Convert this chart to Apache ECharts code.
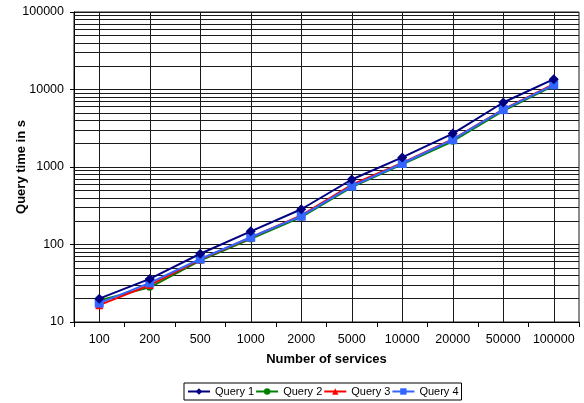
<!DOCTYPE html>
<html>
<head>
<meta charset="utf-8">
<script src="https://cdn.jsdelivr.net/npm/echarts@6/dist/echarts.min.js"></script>
<style>
  html, body { margin: 0; padding: 0; background: #ffffff; }
  #chart { width: 584px; height: 403px; }
</style>
</head>
<body>
<div id="chart"></div>
<script>
// Number of services on the x axis (categories)
const services = ['100', '200', '500', '1000', '2000', '5000', '10000', '20000', '50000', '100000'];

// Query times in seconds for each query
const query1 = [20, 36, 76, 148, 285, 690, 1330, 2700, 6800, 13600];
const query2 = [19, 28, 62, 118, 225, 550, 1080, 2150, 5300, 11200];
const query3 = [16.5, 30, 64, 123, 238, 590, 1130, 2280, 5550, 11700];
const query4 = [17.5, 32, 65, 124, 232, 565, 1110, 2250, 5500, 11500];

const seriesNames = ['Query 1', 'Query 2', 'Query 3', 'Query 4'];

// Log axis range and the decades that carry labels
const yMin = 10;
const yMax = 100000;
const decades = [10, 100, 1000, 10000];
const minorSteps = [2, 3, 4, 5, 6, 7, 8, 9];

// Horizontal minor grid lines at 2..9 of each decade
const minorGridValues = [];
decades.forEach(function (d) {
  minorSteps.forEach(function (m) { minorGridValues.push(d * m); });
});

const gridColor = '#1a1a1a';
const font = '"Liberation Sans", Arial, sans-serif';

const chart = echarts.init(document.getElementById('chart'), null, { renderer: 'canvas' });

function makeSeries(name, data, color, symbol, size, z) {
  return {
    name: name,
    type: 'line',
    data: data,
    z: z,
    symbol: symbol,
    symbolSize: size,
    showSymbol: true,
    lineStyle: { color: color, width: 2 },
    itemStyle: { color: color },
    emphasis: { disabled: true },
    animation: false
  };
}

const s1 = makeSeries(seriesNames[0], query1, '#000080', 'diamond', 10, 6);
const s2 = makeSeries(seriesNames[1], query2, '#008000', 'circle', 7, 3);
const s3 = makeSeries(seriesNames[2], query3, '#ff0000', 'triangle', 8, 4);
const s4 = makeSeries(seriesNames[3], query4, '#3366ff', 'rect', 9, 5);

// Grid underneath the data lines: minor horizontals and a vertical at each category
const gridLines = minorGridValues.map(function (v) { return { yAxis: v }; })
  .concat(services.map(function (c) { return { xAxis: c }; }));

s1.markLine = {
  silent: true,
  z: 1,
  symbol: ['none', 'none'],
  label: { show: false },
  emphasis: { disabled: true },
  animation: false,
  lineStyle: { color: gridColor, width: 1, type: 'solid' },
  data: gridLines
};

chart.setOption({
  backgroundColor: '#ffffff',
  animation: false,
  textStyle: { fontFamily: font },
  grid: {
    left: 74, right: 5, top: 12, bottom: 81,
    containLabel: false,
    outerBoundsMode: 'none',
    show: true,
    borderColor: gridColor,
    borderWidth: 1,
    backgroundColor: 'transparent'
  },
  legend: {
    data: seriesNames,
    bottom: 3,
    left: 184,
    itemWidth: 22,
    itemHeight: 8,
    itemGap: 1,
    padding: [3, 3, 3, 3],
    borderColor: '#000000',
    borderWidth: 1,
    borderRadius: 0,
    backgroundColor: '#ffffff',
    textStyle: { fontSize: 11, color: '#000000', fontFamily: font }
  },
  xAxis: {
    type: 'category',
    data: services,
    boundaryGap: true,
    name: 'Number of services',
    nameLocation: 'middle',
    nameGap: 31,
    nameMoveOverlap: false,
    nameTextStyle: { fontSize: 13, fontWeight: 'bold', color: '#000000', fontFamily: font },
    axisLine: { lineStyle: { color: '#000000', width: 1 } },
    axisTick: { show: true, length: 5, inside: false, lineStyle: { color: '#000000' } },
    axisLabel: { margin: 11, fontSize: 12.5, color: '#000000', fontFamily: font, interval: 0 },
    splitLine: { show: false }
  },
  yAxis: {
    type: 'log',
    logBase: 10,
    min: yMin,
    max: yMax,
    name: 'Query time in s',
    nameLocation: 'middle',
    nameGap: 46,
    nameRotate: 90,
    nameMoveOverlap: false,
    nameTextStyle: { fontSize: 13, fontWeight: 'bold', color: '#000000', fontFamily: font },
    axisLine: { show: true, lineStyle: { color: '#000000', width: 1 } },
    axisTick: { show: true, length: 4, inside: false, lineStyle: { color: '#000000' } },
    axisLabel: {
      margin: 10, fontSize: 12.5, color: '#000000', fontFamily: font,
      formatter: function (v) { return String(Math.round(v)); }
    },
    splitLine: { show: true, lineStyle: { color: gridColor, width: 1 } }
  },
  series: [s1, s2, s3, s4]
});
</script>
</body>
</html>
